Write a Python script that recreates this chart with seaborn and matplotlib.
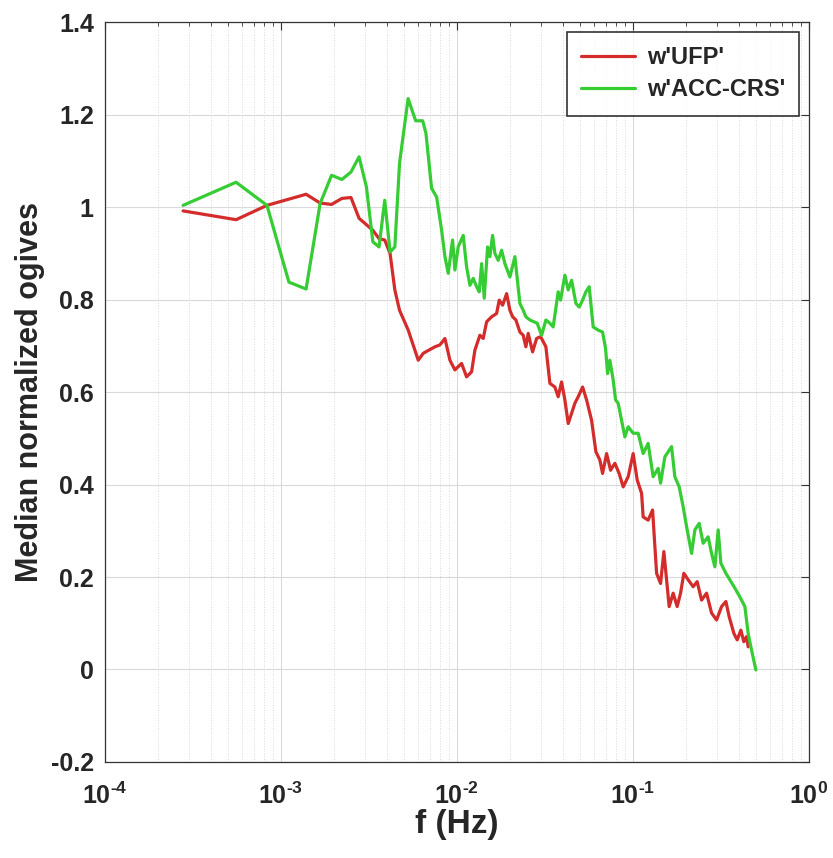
import numpy as np
import pandas as pd
import seaborn as sns
import matplotlib
matplotlib.use('Agg')
import matplotlib.pyplot as plt
from matplotlib.ticker import LogLocator, FuncFormatter, NullFormatter, MultipleLocator

# frequencies (Hz) and median normalized ogives
f_ufp = [2.78e-4, 5.56e-4, 8.33e-4, 1.39e-3, 1.67e-3, 1.94e-3, 2.22e-3, 2.50e-3, 2.78e-3,
         3.33e-3, 3.61e-3, 3.89e-3, 4.17e-3, 4.44e-3, 4.72e-3, 5.29e-3, 6.03e-3, 6.44e-3,
         7.50e-3, 8.00e-3, 8.55e-3, 9.13e-3, 9.74e-3, 1.063e-2, 1.135e-2, 1.212e-2, 1.266e-2,
         1.351e-2, 1.411e-2, 1.475e-2, 1.575e-2, 1.681e-2, 1.740e-2, 1.819e-2, 1.917e-2,
         2.001e-2, 2.073e-2, 2.164e-2, 2.280e-2, 2.381e-2, 2.466e-2, 2.542e-2, 2.692e-2,
         2.837e-2, 2.990e-2, 3.204e-2, 3.376e-2, 3.604e-2, 3.763e-2, 3.934e-2, 4.108e-2,
         4.290e-2, 4.485e-2, 4.683e-2, 4.890e-2, 5.180e-2, 5.458e-2, 5.826e-2, 6.164e-2,
         6.494e-2, 6.727e-2, 7.089e-2, 7.470e-2, 7.901e-2, 8.358e-2, 8.809e-2, 9.404e-2,
         0.1004, 0.1058, 0.1121, 0.1144, 0.1221, 0.1294, 0.1364, 0.1437, 0.1500, 0.1608,
         0.1694, 0.1785, 0.1866, 0.1949, 0.2062, 0.2201, 0.2319, 0.2457, 0.2623, 0.2801,
         0.2990, 0.3192, 0.3377, 0.3526, 0.3750, 0.3915, 0.4108, 0.4272, 0.4426, 0.4520]
og_ufp = [0.992, 0.973, 1.004, 1.028, 1.009, 1.006, 1.019, 1.021, 0.976,
          0.950, 0.932, 0.929, 0.900, 0.821, 0.777, 0.734, 0.669, 0.684,
          0.698, 0.702, 0.716, 0.669, 0.648, 0.662, 0.633, 0.644, 0.691,
          0.723, 0.716, 0.752, 0.763, 0.770, 0.799, 0.788, 0.813,
          0.777, 0.763, 0.756, 0.730, 0.723, 0.698, 0.727, 0.687,
          0.716, 0.720, 0.698, 0.619, 0.611, 0.590, 0.622, 0.583,
          0.532, 0.554, 0.576, 0.590, 0.611, 0.583, 0.539, 0.471,
          0.453, 0.424, 0.467, 0.431, 0.446, 0.424, 0.395, 0.417,
          0.467, 0.410, 0.381, 0.330, 0.323, 0.345, 0.208, 0.186, 0.255, 0.136,
          0.165, 0.136, 0.165, 0.208, 0.194, 0.179, 0.190, 0.150, 0.165, 0.122,
          0.107, 0.136, 0.147, 0.114, 0.078, 0.064, 0.085, 0.060, 0.071, 0.049]

f_acc = [2.78e-4, 5.56e-4, 8.33e-4, 1.11e-3, 1.39e-3, 1.67e-3, 1.94e-3, 2.22e-3, 2.50e-3,
         2.78e-3, 3.06e-3, 3.33e-3, 3.61e-3, 3.89e-3, 4.17e-3, 4.44e-3, 4.72e-3, 5.28e-3,
         5.83e-3, 6.39e-3, 6.67e-3, 7.18e-3, 7.67e-3, 8.19e-3, 8.55e-3, 8.93e-3, 9.45e-3,
         9.74e-3, 1.017e-2, 1.086e-2, 1.135e-2, 1.186e-2, 1.238e-2, 1.294e-2, 1.339e-2,
         1.382e-2, 1.430e-2, 1.494e-2, 1.540e-2, 1.595e-2, 1.644e-2, 1.717e-2, 1.795e-2,
         1.874e-2, 2.001e-2, 2.136e-2, 2.280e-2, 2.381e-2, 2.466e-2, 2.599e-2, 2.860e-2,
         3.030e-2, 3.204e-2, 3.376e-2, 3.525e-2, 3.763e-2, 3.883e-2, 4.108e-2, 4.290e-2,
         4.485e-2, 4.744e-2, 4.954e-2, 5.180e-2, 5.408e-2, 5.646e-2, 5.949e-2, 6.352e-2,
         6.727e-2, 6.997e-2, 7.183e-2, 7.401e-2, 7.728e-2, 7.974e-2, 8.250e-2, 8.625e-2,
         9.006e-2, 9.404e-2, 0.1004, 0.1072, 0.1096, 0.1144, 0.1221, 0.1304, 0.1392,
         0.1437, 0.1520, 0.1659, 0.1732, 0.1833, 0.1931, 0.2019, 0.2156, 0.2251, 0.2381,
         0.2508, 0.2678, 0.2801, 0.2924, 0.3053, 0.3162, 0.3377, 0.3557, 0.3798, 0.4055,
         0.4330, 0.4520, 0.4725, 0.500]
og_acc = [1.004, 1.054, 1.004, 0.838, 0.823, 1.008, 1.069, 1.060, 1.076,
          1.109, 1.044, 0.925, 0.914, 1.015, 0.903, 0.914, 1.095, 1.235,
          1.187, 1.187, 1.160, 1.041, 1.022, 0.950, 0.893, 0.857, 0.929,
          0.864, 0.914, 0.939, 0.871, 0.831, 0.846, 0.828, 0.817,
          0.878, 0.803, 0.914, 0.893, 0.939, 0.900, 0.885, 0.907,
          0.878, 0.849, 0.893, 0.792, 0.777, 0.763, 0.756, 0.749,
          0.723, 0.756, 0.749, 0.741, 0.817, 0.799, 0.853, 0.821,
          0.842, 0.792, 0.784, 0.799, 0.817, 0.828, 0.741, 0.734,
          0.730, 0.694, 0.640, 0.669, 0.626, 0.583, 0.576, 0.539,
          0.503, 0.525, 0.511, 0.511, 0.496, 0.467, 0.489, 0.417, 0.435,
          0.403, 0.460, 0.482, 0.417, 0.395, 0.352, 0.309, 0.251, 0.302, 0.316,
          0.273, 0.287, 0.251, 0.222, 0.302, 0.230, 0.208, 0.194, 0.176, 0.157,
          0.136, 0.078, 0.042, -0.001]

series_names = ["w'UFP'", "w'ACC-CRS'"]
series_colors = ['#d42b2b', '#36cc33']

df = pd.concat([
    pd.DataFrame({'f': f_ufp, 'og': og_ufp, 'series': series_names[0]}),
    pd.DataFrame({'f': f_acc, 'og': og_acc, 'series': series_names[1]}),
])

sns.set_style('white')
plt.rcParams['font.family'] = ['Liberation Sans', 'DejaVu Sans']
plt.rcParams['font.weight'] = 'bold'
plt.rcParams['mathtext.fontset'] = 'custom'
plt.rcParams['mathtext.rm'] = 'Liberation Sans:bold'
plt.rcParams['mathtext.bf'] = 'Liberation Sans:bold'
plt.rcParams['mathtext.it'] = 'Liberation Sans:bold'

fig = plt.figure(figsize=(8.33, 8.58), dpi=100)
ax = fig.add_axes([0.126, 0.112, 0.845, 0.862])

sns.lineplot(data=df, x='f', y='og', hue='series', palette=series_colors,
             estimator=None, sort=False, linewidth=2.3, ax=ax)


def dec_label(v, pos):
    e = int(round(np.log10(v)))
    if e < 0:
        return r'$10^{\text{-}%d}$' % (-e)
    return r'$10^{%d}$' % e


ax.set_xscale('log')
ax.set_xlim(1e-4, 1)
ax.set_ylim(-0.2, 1.4)
ax.yaxis.set_major_locator(MultipleLocator(0.2))
ax.yaxis.set_major_formatter(FuncFormatter(lambda v, p: '%g' % round(v, 1)))
ax.xaxis.set_major_locator(LogLocator(base=10, numticks=10))
ax.xaxis.set_minor_locator(LogLocator(base=10, subs=np.arange(2, 10), numticks=50))
ax.xaxis.set_minor_formatter(NullFormatter())
ax.xaxis.set_major_formatter(FuncFormatter(dec_label))

ax.grid(True, which='major', color='#d9d9d9', linewidth=0.8)
ax.grid(True, which='minor', axis='x', color='#d9d9d9', linewidth=0.7, linestyle=':')
for s in ax.spines.values():
    s.set_color('#333333')
    s.set_linewidth(0.9)
ax.tick_params(which='both', direction='in', top=True, right=True, color='#333333')
ax.tick_params(which='major', length=6, labelsize=18)
ax.tick_params(axis='y', which='major', pad=8)
ax.tick_params(axis='x', which='major', pad=15)
ax.tick_params(which='minor', length=3)

ax.set_xlabel('f (Hz)', fontsize=24, fontweight='bold')
ax.set_ylabel('Median normalized ogives', fontsize=22, fontweight='bold')
ax.xaxis.set_label_coords(0.5, -0.064)
ax.yaxis.set_label_coords(-0.085, 0.5)

leg = ax.legend(loc='upper right', fontsize=17, frameon=True, fancybox=False,
                handlelength=2.3, handletextpad=0.5, labelspacing=0.4,
                borderpad=0.6, borderaxespad=0.4)
leg.get_frame().set_edgecolor('black')
leg.get_frame().set_linewidth(1.2)
for t in leg.get_texts():
    t.set_fontweight('bold')

fig.savefig('out.png', dpi=100)
